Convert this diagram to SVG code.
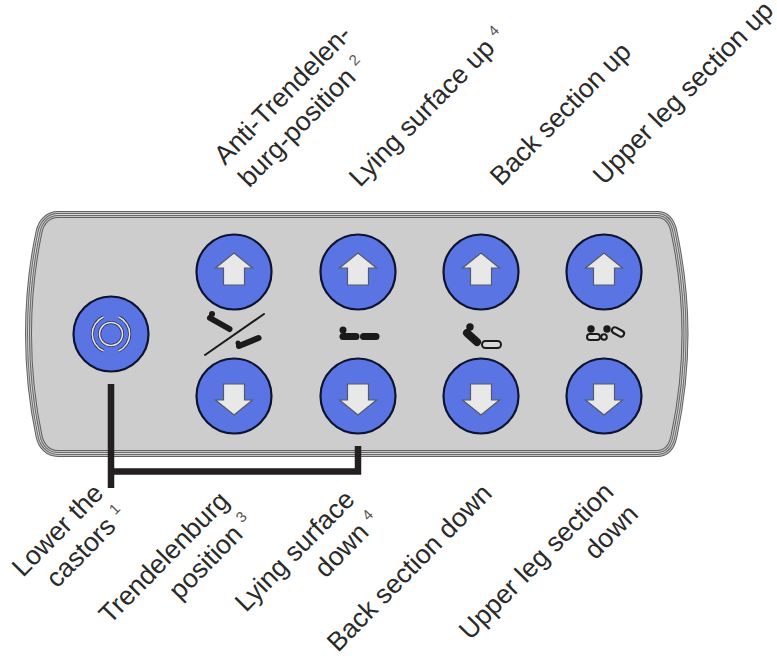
<svg xmlns="http://www.w3.org/2000/svg" width="777" height="656" viewBox="0 0 777 656">
<style>
.b{fill:#5b74e4;stroke:#0d1430;stroke-width:2.2}
.a{fill:#e8e8e8;stroke:#555a66;stroke-width:1.2}
.k{fill:#1a1a1a}
.o{fill:#d8d8d8;stroke:#1a1a1a;stroke-width:2}
.w{fill:none;stroke:#e8e8e8;stroke-width:1.5}
.w2{fill:none;stroke:#2a2f55;stroke-width:3}
text{font-family:"Liberation Sans",Arial,sans-serif;font-size:26.600px;fill:#2a2a2a}
.s{font-size:15px;fill:#555}
.c{fill:none;stroke:#231f20;stroke-width:6.500}
.l{fill:none;stroke:#1a1a1a;stroke-linecap:round}
</style>
<defs>
<path id="up" class="a" d="M0-19L18.500-4H10.500V13H-10.500V-4H-18.500Z"/>
<path id="dn" class="a" d="M0 19L18.500 4H10.500V-12H-10.500V4H-18.500Z"/>
<path id="outline" d="M58 214.500H657C667 214.500 672 222 674 232C681 265 685 300 685 334C685 368 681 403 674 436C672 446 667 453.500 657 453.500H58C48 453.500 41 446 39 436C32 403 28.500 368 28.500 334C28.500 300 32 265 39 232C41 222 48 214.500 58 214.500Z"/>
</defs>
<g id="panel">
<use href="#outline" fill="#cdcdcd" stroke="#606060" stroke-width="7"/>
<use href="#outline" fill="none" stroke="#c4c4c4" stroke-width="5"/>
<use href="#outline" fill="none" stroke="#6a6a6a" stroke-width="3"/>
<use href="#outline" fill="none" stroke="#d8d8d8" stroke-width="1"/>
</g>
<g id="connectors">
<path class="c" d="M111 384V488M111 471.500H358V446"/>
</g>
<g id="btn-castors"><circle class="b" cx="111" cy="334" r="37.500"/>
<circle cx="111" cy="334" r="11.500" class="w2"/><circle cx="111" cy="334" r="11.500" class="w"/>
<path class="w2" d="M103.500 317A18.500 18.500 0 0 0 103.500 351M118.500 317A18.500 18.500 0 0 1 118.500 351"/><path class="w" d="M103.500 317A18.500 18.500 0 0 0 103.500 351M118.500 317A18.500 18.500 0 0 1 118.500 351"/></g>
<g id="btn-anti"><circle class="b" cx="234" cy="272" r="37.500"/><use href="#up" x="234" y="272"/></g>
<g id="btn-trend"><circle class="b" cx="234" cy="396" r="37.500"/><use href="#dn" x="234" y="396"/></g>
<g id="btn-lying-up"><circle class="b" cx="358" cy="272" r="37.500"/><use href="#up" x="358" y="272"/></g>
<g id="btn-lying-down"><circle class="b" cx="358" cy="396" r="37.500"/><use href="#dn" x="358" y="396"/></g>
<g id="btn-back-up"><circle class="b" cx="481" cy="272" r="37.500"/><use href="#up" x="481" y="272"/></g>
<g id="btn-back-down"><circle class="b" cx="481" cy="396" r="37.500"/><use href="#dn" x="481" y="396"/></g>
<g id="btn-leg-up"><circle class="b" cx="604" cy="272" r="37.500"/><use href="#up" x="604" y="272"/></g>
<g id="btn-leg-down"><circle class="b" cx="604" cy="396" r="37.500"/><use href="#dn" x="604" y="396"/></g>
<g id="icon-tilt">
<path class="l" d="M205 355L264 314" stroke-width="2"/>
<circle class="k" cx="212" cy="314" r="3"/><path class="l" d="M210 318L229.500 329" stroke-width="6"/>
<circle class="k" cx="238" cy="343" r="2.500"/><path class="l" d="M239 346L258.500 338" stroke-width="6"/>
</g>
<g id="icon-lying">
<circle class="k" cx="343" cy="330" r="3.500"/>
<rect class="k" x="339.500" y="333" width="20" height="7" rx="3.500"/><rect class="k" x="360" y="333" width="19.500" height="7" rx="3.500"/>
</g>
<g id="icon-back">
<circle class="k" cx="470" cy="327" r="3.700"/><path class="l" d="M467 333L477 342" stroke-width="8"/>
<rect class="o" x="482" y="341" width="19" height="7" rx="3.500"/>
</g>
<g id="icon-leg">
<circle class="k" cx="591" cy="329" r="3.700"/><rect class="o" x="587" y="334" width="13" height="6" rx="3"/>
<circle class="k" cx="607" cy="329" r="3.700"/><circle class="o" cx="604" cy="337" r="2.800"/>
<rect class="o" x="-6.500" y="-3" width="13" height="6" rx="3" transform="translate(618 332) rotate(28)"/>
</g>
<g id="labels">
<g transform="translate(225 166) rotate(-45.500)"><text>Anti-Trendelen-</text><text x="1" y="33">burg-position <tspan class="s" dy="-10">2</tspan></text></g>
<g transform="translate(360 188) rotate(-45.500)"><text>Lying surface up <tspan class="s" dy="-10">4</tspan></text></g>
<g transform="translate(501 187) rotate(-45.500)"><text>Back section up</text></g>
<g transform="translate(604 186) rotate(-45.500)"><text>Upper leg section up</text></g>
<g transform="translate(23 578) rotate(-45.500)"><text>Lower the</text><text x="16" y="32">castors <tspan class="s" dy="-10">1</tspan></text></g>
<g transform="translate(110 625) rotate(-45.500)"><text>Trendelenburg</text><text x="66" y="33">position <tspan class="s" dy="-10">3</tspan></text></g>
<g transform="translate(246 613) rotate(-45.500)"><text>Lying surface</text><text x="80" y="33">down <tspan class="s" dy="-10">4</tspan></text></g>
<g transform="translate(338 653) rotate(-45.500)"><text>Back section down</text></g>
<g transform="translate(470 641) rotate(-45.500)"><text>Upper leg section</text><text x="145" y="33">down</text></g>
</g>
</svg>
